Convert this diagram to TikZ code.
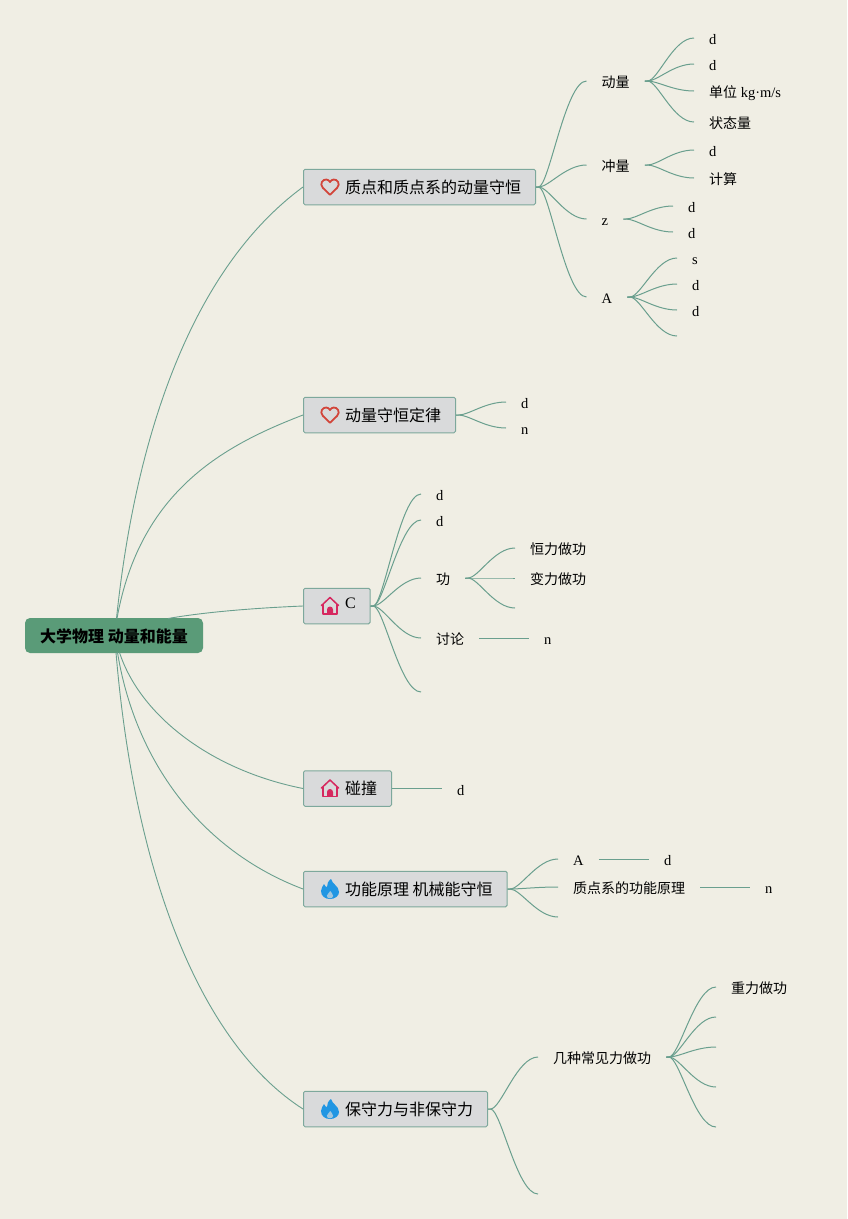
\documentclass[tikz,border=0pt]{standalone}
\usepackage{fontspec}
\setmainfont{Liberation Serif}
\newfontfamily\cjk{Noto Sans CJK SC}
\newcommand{\zh}[1]{{\cjk\fontsize{14}{16}\selectfont #1}}
\newcommand{\zhb}[1]{{\cjk\fontsize{16}{18}\selectfont #1}}
\definecolor{paper}{HTML}{F0EEE4}
\definecolor{linkc}{HTML}{6A9F8E}
\definecolor{boxline}{HTML}{7DA89C}
\definecolor{boxfill}{HTML}{D9DADB}
\definecolor{rootfill}{HTML}{5A9B78}
\definecolor{heartc}{HTML}{D2453A}
\definecolor{housec}{HTML}{D6285F}
\definecolor{flamec}{HTML}{2196E3}
\newcommand{\curvelink}[2]{\draw[link] (#1) -- ([xshift=2.5pt]#1) .. controls ([xshift=13pt]#1) and ([xshift=-21pt]#2) .. (#2);}
\newcommand{\straightlink}[2]{\draw[link] (#1) -- (#2);}
\tikzset{
  link/.style={draw=linkc,line width=1pt},
  mainlink/.style={draw=linkc,line width=0.9pt},
  leaf/.style={anchor=west,inner xsep=15pt,inner ysep=0pt,text height=15pt,text depth=2pt,text=black,font=\fontsize{14.5}{16}\selectfont},
  topic/.style={draw=boxline,fill=boxfill,line width=1pt,rounded corners=1.5pt,anchor=west,minimum height=35.5pt,inner xsep=14.5pt,inner ysep=0pt,text height=14pt,text depth=2pt,text=black,font=\fontsize{16}{18}\selectfont},
  rootbox/.style={fill=rootfill,rounded corners=5pt,minimum width=178pt,minimum height=35pt,inner sep=0pt,text height=15pt,text depth=1pt,text=black},
  heart/.pic={\draw[heartc,line width=1.8pt,line join=round] (0,7.8) -- (-7.2,0.8) .. controls (-10.8,-3) and (-7.2,-8) .. (-3.6,-7.5) .. controls (-2,-7.3) and (-0.8,-6.5) .. (0,-5) .. controls (0.8,-6.5) and (2,-7.3) .. (3.6,-7.5) .. controls (7.2,-8) and (10.8,-3) .. (7.2,0.8) -- cycle;},
  house/.pic={\draw[housec,line width=1.5pt,line join=round,line cap=round] (-8.5,-0.5) -- (0,-8.5) -- (8.5,-0.5);
    \draw[housec,line width=1.5pt,line join=round] (-6.8,-2) -- (-6.8,8) -- (6.8,8) -- (6.8,-2);
    \fill[housec] (-3,8) -- (-3,3.5) arc[start angle=180,end angle=360,radius=3] -- (3,8) -- cycle;},
  flame/.pic={\fill[flamec] (1,-10) .. controls (2,-5) and (9,-3) .. (9,3) .. controls (9,7) and (5,10) .. (0,10) .. controls (-5,10) and (-9,7) .. (-9,2) .. controls (-9,-1) and (-7,-3) .. (-6,-5) .. controls (-5,-3) and (-4,-2) .. (-3,-2) .. controls (-3,-5) and (-2,-8) .. (1,-10) -- cycle;
    \fill[boxfill!70!flamec] (0.3,2) .. controls (1,4) and (3.6,5) .. (3.2,7.2) .. controls (2.9,8.6) and (1,9.3) .. (0,9.3) .. controls (-1.8,9.3) and (-3.4,8.3) .. (-3.2,6.7) .. controls (-3,5) and (-0.6,4) .. (0.3,2) -- cycle;}
}
\begin{document}
\begin{tikzpicture}[x=1pt,y=-1pt]
\useasboundingbox (0,0) rectangle (847,1219);
\fill[paper] (0,0) rectangle (847,1219);

% root and topics
\node[rootbox] (root) at (114,635.5) {\fontsize{16}{18}\selectfont\cjk\bfseries 大学物理 动量和能量};
\coordinate (rootC) at (168,618.5);
\coordinate (rootTa) at (116.5,618.5);
\coordinate (rootTb) at (117,618.5);
\coordinate (rootBd) at (119.5,652.5);
\coordinate (rootBe) at (117.5,652.5);
\coordinate (rootBf) at (116,652.5);

\node[topic] (ta) at (303,187) {\hspace{27pt}\zhb{质点和质点系的动量守恒}};
\node[topic] (tb) at (303,415) {\hspace{27pt}\zhb{动量守恒定律}};
\node[topic] (tc) at (303,606) {\hspace{27pt}\raisebox{4pt}{C}};
\node[topic] (td) at (303,788.5) {\hspace{27pt}\zhb{碰撞}};
\node[topic] (te) at (303,889) {\hspace{27pt}\zhb{功能原理 机械能守恒}};
\node[topic] (tf) at (303,1109) {\hspace{27pt}\zhb{保守力与非保守力}};

\draw[mainlink] (rootTa) .. controls (135,440) and (190,270) .. (ta.west);
\draw[mainlink] (rootTb) .. controls (140,490) and (225,445) .. (tb.west);
\draw[mainlink] (rootC) .. controls (205,612) and (255,608) .. (tc.west);
\draw[mainlink] (rootBd) .. controls (140,715) and (210,770) .. (td.west);
\draw[mainlink] (rootBe) .. controls (135,760) and (200,850) .. (te.west);
\draw[mainlink] (rootBf) .. controls (135,880) and (203,1045) .. (tf.west);

\pic at ([xshift=27pt]ta.west) {heart};
\pic at ([xshift=27pt]tb.west) {heart};
\pic at ([xshift=27pt]tc.west) {house};
\pic at ([xshift=27pt]td.west) {house};
\pic at ([xshift=27pt]te.west) {flame};
\pic at ([xshift=27pt]tf.west) {flame};

% topic A
\node[leaf] (dl) at (586.5,81) {\zh{动量}};
\node[leaf] (cl) at (586.5,165) {\zh{冲量}};
\node[leaf] (zz) at (586.5,219) {z};
\node[leaf] (aa) at (586.5,297) {A};
\foreach \t in {dl,cl,zz,aa} {\curvelink{ta.east}{\t.west}}

\node[leaf] (dl1) at (694,38) {d};
\node[leaf] (dl2) at (694,64) {d};
\node[leaf] (dl3) at (694,91) {\zh{单位} kg·m/s};
\node[leaf] (dl4) at (694,122) {\zh{状态量}};
\foreach \t in {dl1,dl2,dl3,dl4} {\curvelink{dl.east}{\t.west}}

\node[leaf] (cl1) at (694,150) {d};
\node[leaf] (cl2) at (694,178) {\zh{计算}};
\foreach \t in {cl1,cl2} {\curvelink{cl.east}{\t.west}}

\node[leaf] (zz1) at (673,206) {d};
\node[leaf] (zz2) at (673,232) {d};
\foreach \t in {zz1,zz2} {\curvelink{zz.east}{\t.west}}

\node[leaf] (aa1) at (677,258) {s};
\node[leaf] (aa2) at (677,284) {d};
\node[leaf] (aa3) at (677,310) {d};
\coordinate (aa4) at (677,336);
\foreach \t in {aa1.west,aa2.west,aa3.west,aa4} {\curvelink{aa.east}{\t}}

% topic B
\node[leaf] (b1) at (506,402) {d};
\node[leaf] (b2) at (506,428) {n};
\foreach \t in {b1,b2} {\curvelink{tb.east}{\t.west}}

% topic C
\node[leaf] (c1) at (421,494) {d};
\node[leaf] (c2) at (421,520) {d};
\node[leaf] (c3) at (421,578) {\zh{功}};
\node[leaf] (c4) at (421,638) {\zh{讨论}};
\coordinate (c5) at (421,692);
\foreach \t in {c1.west,c2.west,c3.west,c4.west,c5} {\curvelink{tc.east}{\t}}

\node[leaf] (g1) at (515,548) {\zh{恒力做功}};
\node[leaf] (g2) at (515,578) {\zh{变力做功}};
\coordinate (g3) at (515,608);
\foreach \t in {g1.west,g2.west,g3} {\curvelink{c3.east}{\t}}

\node[leaf] (t1) at (529,638) {n};
\straightlink{c4.east}{t1.west}

% topic D
\node[leaf] (d1) at (442,788.5) {d};
\straightlink{td.east}{d1.west}

% topic E
\node[leaf] (e1) at (558,859) {A};
\node[leaf] (e2) at (558,887) {\zh{质点系的功能原理}};
\coordinate (e3) at (558,917);
\foreach \t in {e1.west,e2.west,e3} {\curvelink{te.east}{\t}}
\node[leaf] (e11) at (649,859) {d};
\straightlink{e1.east}{e11.west}
\node[leaf] (e21) at (750,887) {n};
\straightlink{e2.east}{e21.west}

% topic F
\node[leaf] (f1) at (538,1057) {\zh{几种常见力做功}};
\coordinate (f2) at (538,1194);
\foreach \t in {f1.west,f2} {\curvelink{tf.east}{\t}}
\node[leaf] (f11) at (716,987) {\zh{重力做功}};
\coordinate (f12) at (716,1017);
\coordinate (f13) at (716,1047);
\coordinate (f14) at (716,1087);
\coordinate (f15) at (716,1127);
\foreach \t in {f11.west,f12,f13,f14,f15} {\curvelink{f1.east}{\t}}
\end{tikzpicture}
\end{document}
